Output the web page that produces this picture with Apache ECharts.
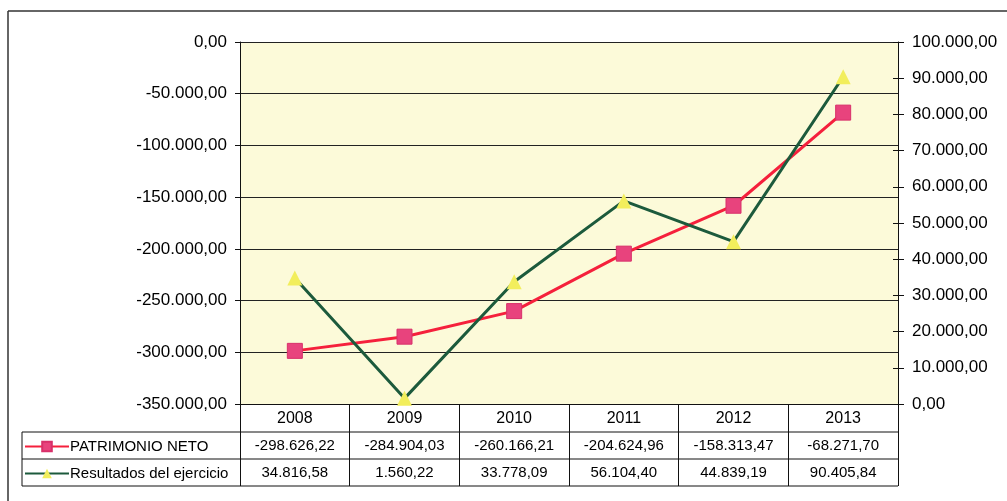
<!DOCTYPE html>
<html>
<head>
<meta charset="utf-8">
<script src="https://cdn.jsdelivr.net/npm/echarts@6/dist/echarts.min.js"></script>
<style>
  html, body { margin: 0; padding: 0; background: #fff; }
  #chart { width: 1007px; height: 501px; }
</style>
</head>
<body>
<div id="chart"></div>
<script>
// datos del gráfico
const years = ['2008', '2009', '2010', '2011', '2012', '2013']
const patrimonioNeto = [-298626.22, -284904.03, -260166.21, -204624.96, -158313.47, -68271.70]
const resultados = [34816.58, 1560.22, 33778.09, 56104.40, 44839.19, 90405.84]
const seriesNames = ['PATRIMONIO NETO', 'Resultados del ejercicio']

const FONT = '"Liberation Sans", Arial, sans-serif'

// 1234567.8 -> "1.234.567,80"
function fmt(v) {
  const neg = v < 0
  const parts = Math.abs(v).toFixed(2).split('.')
  const int = parts[0].replace(/\B(?=(\d{3})+(?!\d))/g, '.')
  return (neg ? '-' : '') + int + ',' + parts[1]
}

const chart = echarts.init(document.getElementById('chart'), null, { renderer: 'canvas' })

const option = {
  animation: false,
  backgroundColor: '#fff',
  textStyle: { fontFamily: FONT },
  grid: {
    left: 240, right: 109, top: 42, bottom: 97,
    show: true, backgroundColor: '#FCFAD9', borderWidth: 0
  },
  legend: {
    orient: 'vertical',
    left: 22, top: 439,
    itemWidth: 44, itemHeight: 12, itemGap: 12, padding: [0, 0, 0, 2],
    textStyle: { fontFamily: FONT, fontSize: 15, color: '#000', padding: [0, 0, 0, -4] },
    data: seriesNames,
    selectedMode: false
  },
  xAxis: {
    type: 'category',
    data: years,
    boundaryGap: true,
    axisLine: { onZero: false, lineStyle: { color: '#111', width: 1 } },
    axisTick: { show: true, interval: 0, length: 82, lineStyle: { color: '#111', width: 1 } },
    axisLabel: { margin: 7, fontFamily: FONT, fontSize: 16, color: '#000' }
  },
  yAxis: [
    {
      type: 'value',
      min: -350000, max: 0, interval: 50000,
      position: 'left',
      axisLine: { show: true, onZero: false, lineStyle: { color: '#111' } },
      axisTick: { show: true, length: 5, lineStyle: { color: '#111' } },
      axisLabel: { margin: 13, fontFamily: FONT, fontSize: 17, color: '#000', formatter: fmt },
      splitLine: { show: true, lineStyle: { color: '#222', width: 1 } }
    },
    {
      type: 'value',
      min: 0, max: 100000, interval: 10000,
      position: 'right',
      axisLine: { show: true, onZero: false, lineStyle: { color: '#111' } },
      axisTick: { show: true, length: 6, lineStyle: { color: '#111' } },
      axisLabel: { margin: 14, fontFamily: FONT, fontSize: 17, color: '#000', formatter: fmt },
      splitLine: { show: false }
    },
    {
      // marcas interiores del eje derecho (cruzan la línea)
      type: 'value',
      min: 0, max: 100000, interval: 10000,
      position: 'right',
      axisLine: { show: false, onZero: false },
      axisTick: { show: true, inside: true, length: 5, lineStyle: { color: '#111' } },
      axisLabel: { show: false },
      splitLine: { show: false }
    }
  ],
  series: [
    {
      name: seriesNames[0],
      type: 'line',
      yAxisIndex: 0,
      data: patrimonioNeto,
      symbol: 'rect', symbolSize: 15,
      lineStyle: { color: '#F5203C', width: 3 },
      itemStyle: { color: '#E8437D', borderColor: '#D8306A', borderWidth: 1 },
      z: 3
    },
    {
      name: seriesNames[1],
      type: 'line',
      yAxisIndex: 1,
      data: resultados,
      symbol: 'triangle', symbolSize: 15,
      lineStyle: { color: '#1C5A3C', width: 3 },
      itemStyle: { color: '#F2EE5C', borderWidth: 0 },
      z: 4
    }
  ]
}

chart.setOption(option)

// tabla de datos debajo del eje
function buildTable() {
  const tableLeft = 22
  const step = chart.convertToPixel({ xAxisIndex: 0 }, 1) - chart.convertToPixel({ xAxisIndex: 0 }, 0)
  const right = chart.convertToPixel({ xAxisIndex: 0 }, 5) + step / 2
  const rowY = [432, 459, 486]
  const els = []
  rowY.forEach(function (y) {
    els.push({ type: 'line', shape: { x1: tableLeft, y1: y, x2: right, y2: y }, style: { stroke: '#111', lineWidth: 1 } })
  })
  els.push({ type: 'line', shape: { x1: tableLeft, y1: 432, x2: tableLeft, y2: 486 }, style: { stroke: '#111', lineWidth: 1 } })
  const rows = [patrimonioNeto, resultados]
  rows.forEach(function (vals, r) {
    vals.forEach(function (v, i) {
      const cx = chart.convertToPixel({ xAxisIndex: 0 }, i)
      els.push({
        type: 'text',
        x: cx, y: (rowY[r] + rowY[r + 1]) / 2,
        style: { text: fmt(v), fontFamily: FONT, fontSize: 15, fill: '#000', align: 'center', verticalAlign: 'middle' }
      })
    })
  })
  // marco exterior
  els.push({ type: 'line', shape: { x1: 8, y1: 11, x2: 1007, y2: 11 }, style: { stroke: '#333', lineWidth: 1.5 } })
  els.push({ type: 'line', shape: { x1: 8, y1: 11, x2: 8, y2: 501 }, style: { stroke: '#333', lineWidth: 1.5 } })
  chart.setOption({ graphic: els })
}
buildTable()
</script>
</body>
</html>
